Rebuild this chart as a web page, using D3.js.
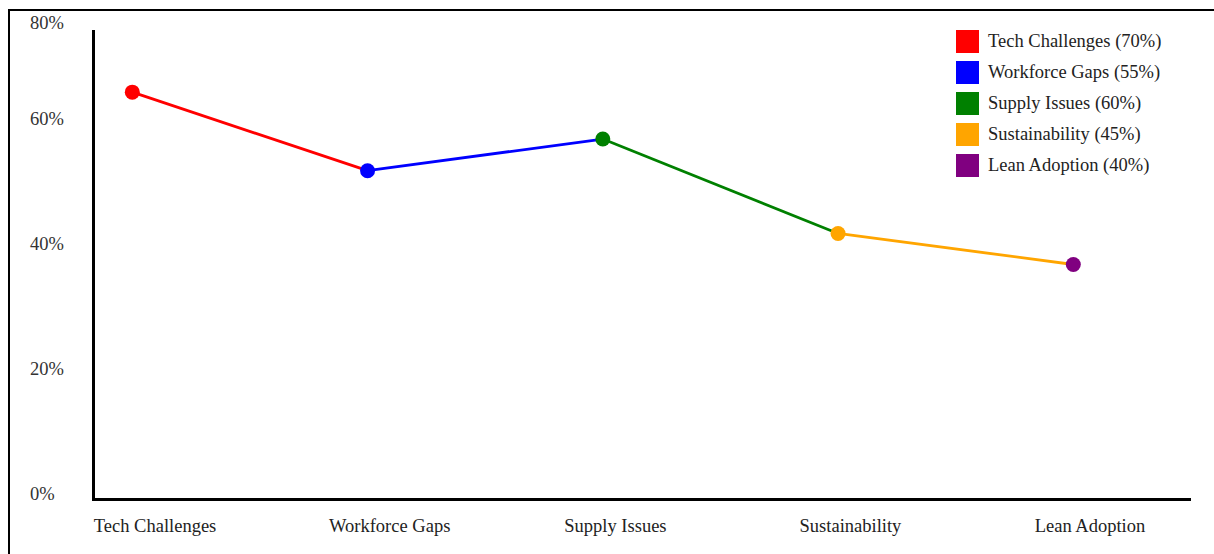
<!DOCTYPE html>
<html>
<head>
<meta charset="utf-8">
<script src="https://cdn.jsdelivr.net/npm/d3@7"></script>
<style>
  html, body { margin: 0; padding: 0; background: #fff; overflow: hidden; }
  svg { display: block; font-family: "Liberation Serif", "Times New Roman", serif; }
</style>
</head>
<body>
<svg id="chart" width="1214" height="554"></svg>
<script>
const categories = ["Tech Challenges", "Workforce Gaps", "Supply Issues", "Sustainability", "Lean Adoption"];
const values = [69.4, 56.0, 61.4, 45.3, 40.0];
const legendValues = [70, 55, 60, 45, 40];
const colors = ["#ff0000", "#0000ff", "#008000", "#ffa500", "#800080"];
const yTicks = [0, 20, 40, 60, 80];

const svg = d3.select("#chart");

// outer frame (extends past the viewport on right/bottom)
svg.append("rect")
  .attr("x", 9).attr("y", 10)
  .attr("width", 1300).attr("height", 600)
  .attr("fill", "none").attr("stroke", "#000").attr("stroke-width", 2);

const x = d3.scalePoint().domain(categories).range([132.3, 1073.3]);
const y = d3.scaleLinear().domain([0, 80]).range([499, 30]);
const yLabel = d3.scaleLinear().domain([0, 80]).range([494, -7]);

// axes lines
svg.append("line")
  .attr("x1", 93.5).attr("x2", 93.5)
  .attr("y1", y(80)).attr("y2", y(0) + 2)
  .attr("stroke", "#000").attr("stroke-width", 3);
svg.append("line")
  .attr("x1", 92).attr("x2", 1191)
  .attr("y1", y(0) + 0.5).attr("y2", y(0) + 0.5)
  .attr("stroke", "#000").attr("stroke-width", 3);

// y tick labels
svg.selectAll("text.ytick").data(yTicks).join("text")
  .attr("class", "ytick")
  .attr("x", 30)
  .attr("y", d => Math.max(23, yLabel(d)))
  .attr("dy", "0.35em")
  .attr("font-size", 18.5)
  .attr("fill", "#333")
  .text(d => d + "%");

// x labels
svg.selectAll("text.xlab").data(categories).join("text")
  .attr("class", "xlab")
  .attr("x", d => x(d) - 38.5)
  .attr("y", 531.5)
  .attr("font-size", 18.5)
  .attr("fill", "#222")
  .text(d => d);

// line segments
const pts = categories.map((c, i) => ({ c, v: values[i], col: colors[i] }));
const segs = pts.slice(0, -1).map((p, i) => [p, pts[i + 1]]);
const line = d3.line().x(d => x(d.c)).y(d => y(d.v));
svg.selectAll("path.seg").data(segs).join("path")
  .attr("class", "seg")
  .attr("d", d => line(d))
  .attr("fill", "none")
  .attr("stroke", d => d[0].col)
  .attr("stroke-width", 2.8);

// points
svg.selectAll("circle.pt").data(pts).join("circle")
  .attr("class", "pt")
  .attr("cx", d => x(d.c))
  .attr("cy", d => y(d.v))
  .attr("r", 7.5)
  .attr("fill", d => d.col);

// legend
const lg = svg.append("g").attr("transform", "translate(956,30)");
const rows = lg.selectAll("g").data(categories).join("g")
  .attr("transform", (d, i) => `translate(0,${i * 31})`);
rows.append("rect")
  .attr("width", 23).attr("height", 23)
  .attr("fill", (d, i) => colors[i]);
rows.append("text")
  .attr("x", 32).attr("y", 11).attr("dy", "0.35em")
  .attr("font-size", 18.5)
  .attr("fill", "#222")
  .text((d, i) => `${d} (${legendValues[i]}%)`);
</script>
</body>
</html>
